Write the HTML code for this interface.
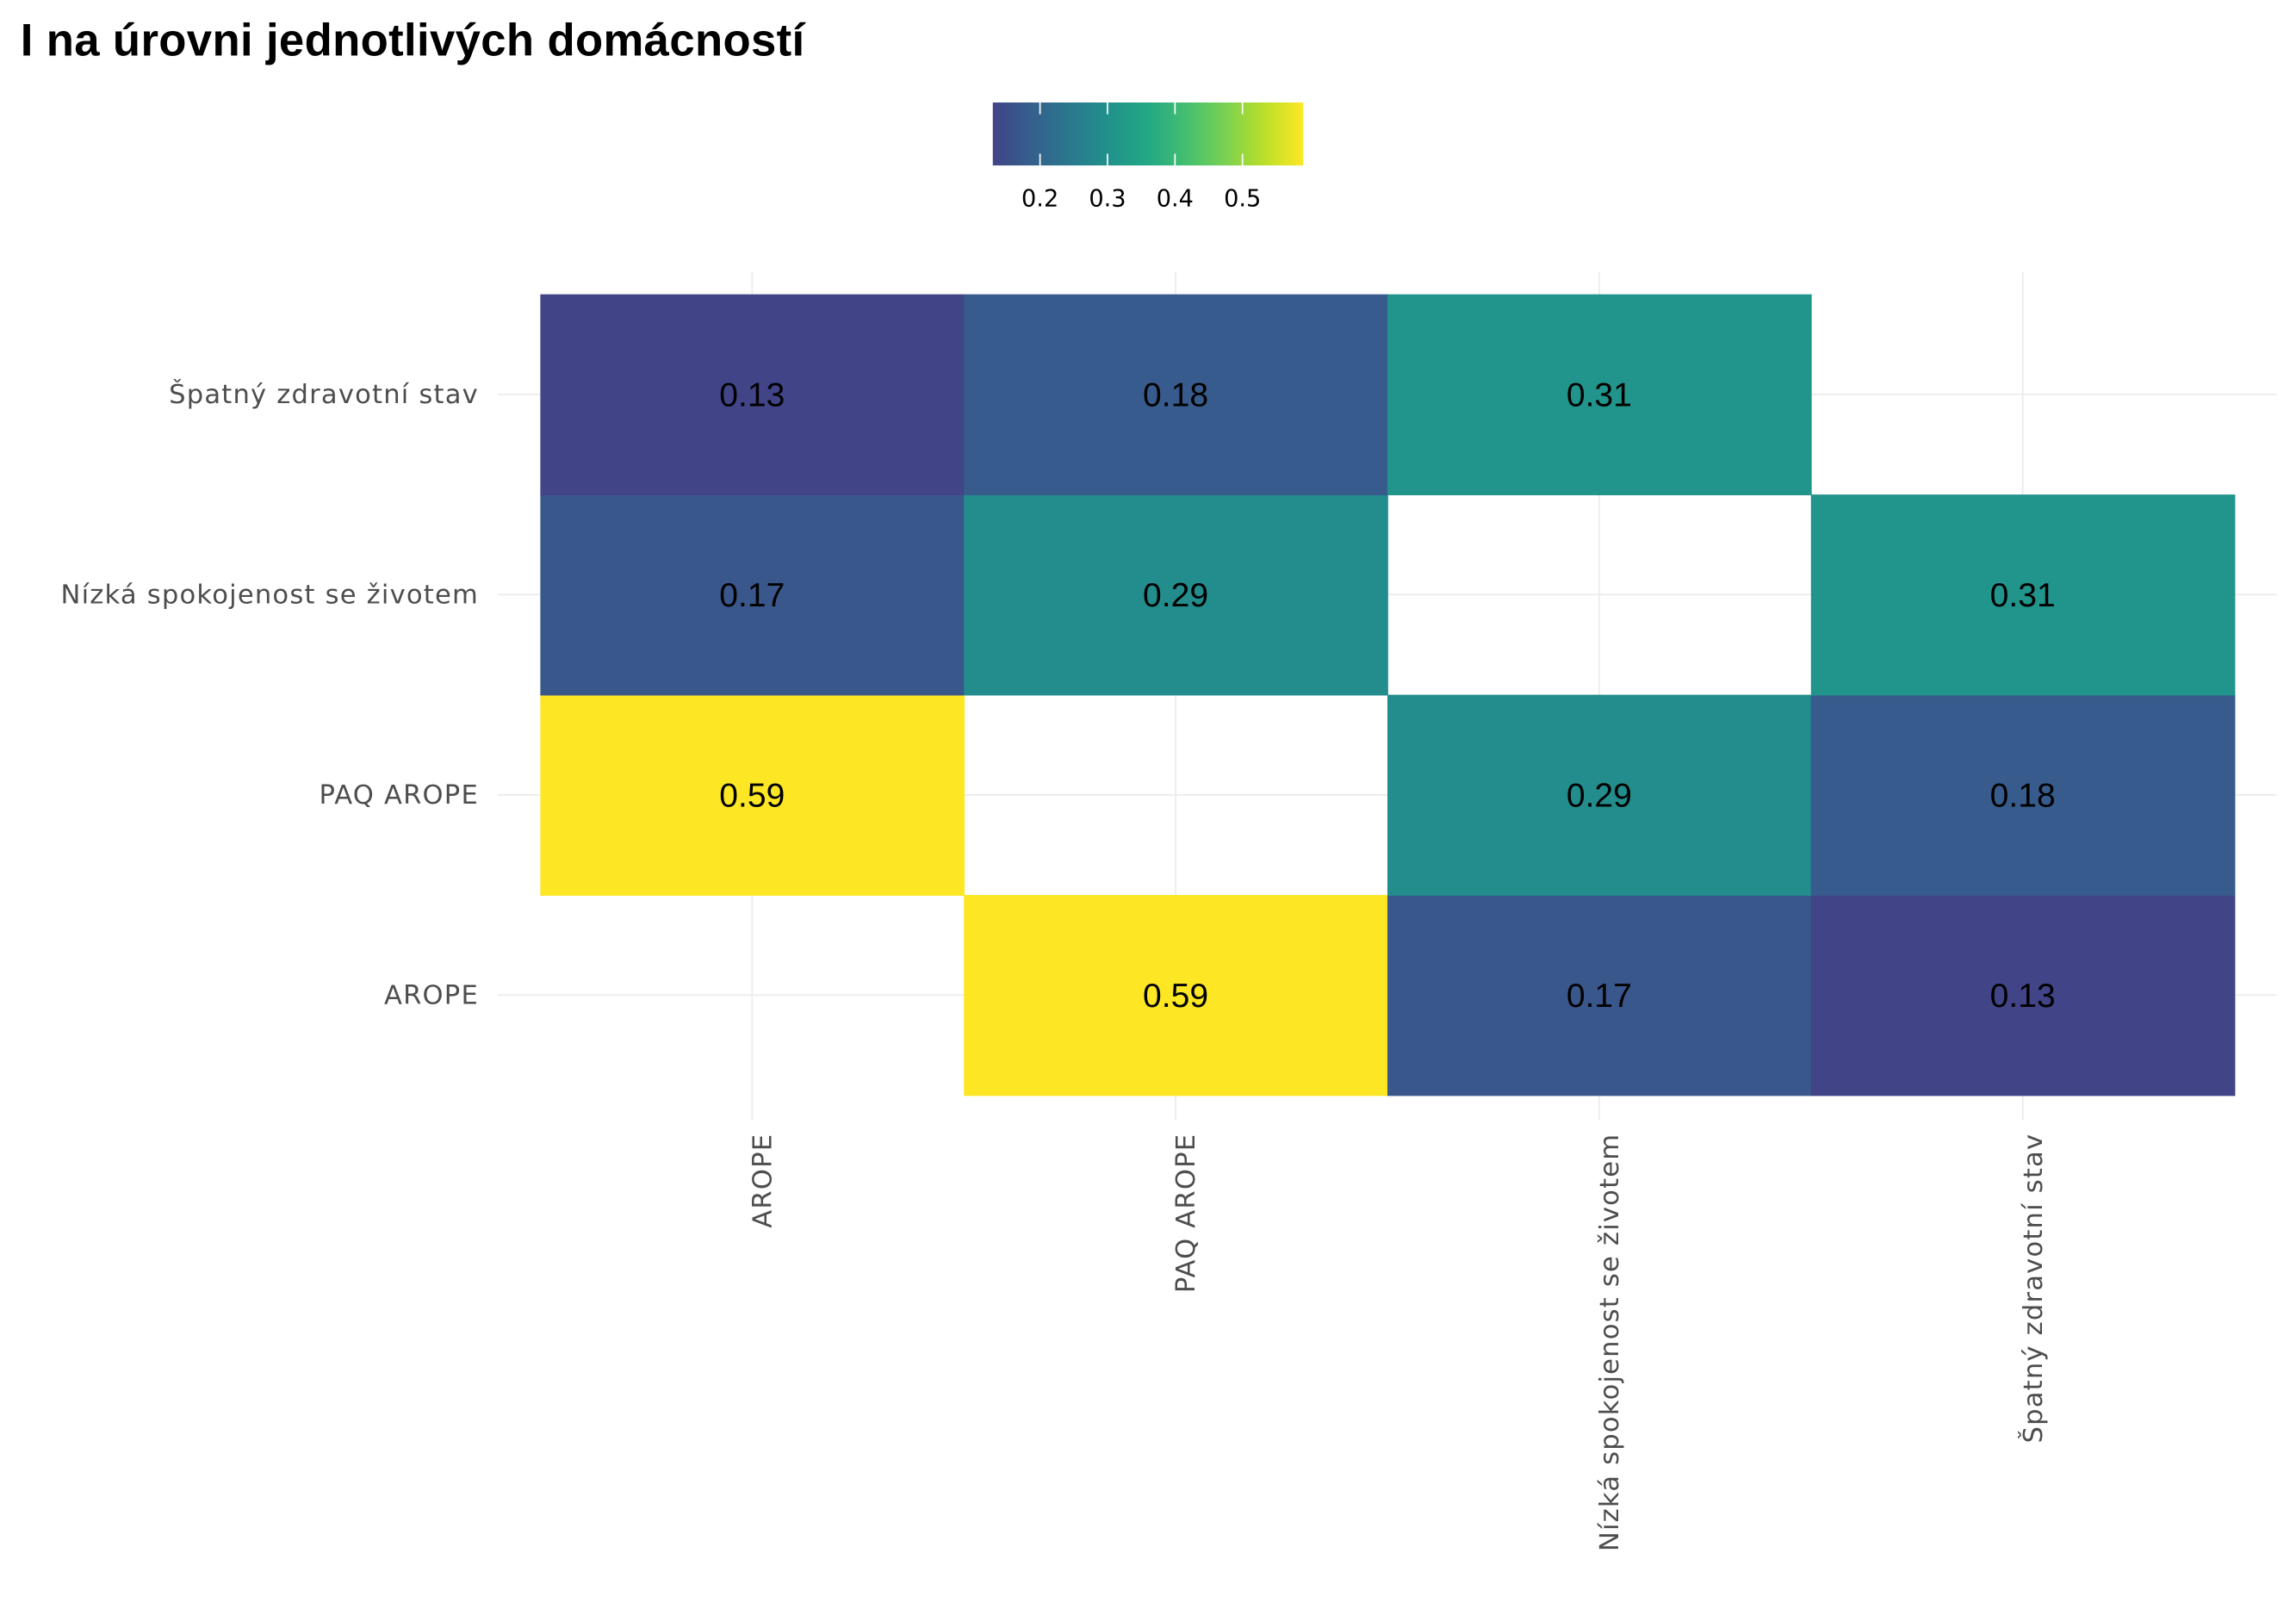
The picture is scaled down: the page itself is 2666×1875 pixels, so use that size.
<!DOCTYPE html>
<html><head><meta charset="utf-8"><style>
html,body{margin:0;padding:0;background:#fff;}
svg{display:block;}
</style></head><body>
<svg id="chart" width="2666" height="1875" viewBox="0 0 1568 1103" preserveAspectRatio="none" xmlns="http://www.w3.org/2000/svg">
<text x="14" y="38" font-family="Liberation Sans, sans-serif" font-weight="bold" font-size="31" fill="#000" letter-spacing="0.2">I na úrovni jednotlivých domácností</text>
<defs><linearGradient id="lg" x1="0" x2="1" y1="0" y2="0"></linearGradient></defs>
<g id="grid"></g><g id="tiles"></g><g id="labels"></g><g id="legend"></g>
</svg>
<script>
const categories = ["AROPE", "PAQ AROPE", "Nízká spokojenost se životem", "Špatný zdravotní stav"];
const cellCols = [0, 0, 0, 1, 1, 1, 2, 2, 2, 3, 3, 3];
const cellRows = [1, 2, 3, 0, 2, 3, 0, 1, 3, 0, 1, 2];
const cellValues = [0.59, 0.17, 0.13, 0.59, 0.29, 0.18, 0.17, 0.29, 0.31, 0.13, 0.18, 0.31];
const legendTicks = [0.2, 0.3, 0.4, 0.5];
const NS = "http://www.w3.org/2000/svg";
const vir = ["#440154","#482475","#414487","#355F8D","#2A788E","#21918C","#22A884","#44BF70","#7AD151","#BBDF27","#FDE725"];
const vmin = Math.min(...cellValues), vmax = Math.max(...cellValues);
function hex(c){return [1,3,5].map(i=>parseInt(c.substr(i,2),16));}
function viridis(t){t=Math.max(0,Math.min(1,t));const p=t*10,i=Math.min(9,Math.floor(p)),f=p-i;const a=hex(vir[i]),b=hex(vir[i+1]);return "rgb("+a.map((v,k)=>Math.round(v+(b[k]-v)*f)).join(",")+")";}
function color(v){return viridis(0.2+0.8*(v-vmin)/(vmax-vmin));}
const x0=369, tw=289.25, yTop=201, th=136.75;
function xc(i){return x0+tw*(i+0.5);}
function yc(r){return yTop+th*(categories.length-1-r+0.5);}
function mk(tag,attrs,parent){const e=document.createElementNS(NS,tag);for(const k in attrs)e.setAttribute(k,attrs[k]);parent.appendChild(e);return e;}
const grid=document.getElementById("grid"), tiles=document.getElementById("tiles"), labels=document.getElementById("labels"), legend=document.getElementById("legend");
categories.forEach((c,i)=>{
  const gv=mk("line",{x1:xc(i),x2:xc(i),y1:186,y2:765,stroke:"#ebebeb","stroke-width":1},grid);
  
  
  const gh=mk("line",{x1:340,x2:1555,y1:yc(i),y2:yc(i),stroke:"#ebebeb","stroke-width":1},grid);
  
  
  const yl=mk("text",{x:327,y:yc(i)+6,"text-anchor":"end","font-family":"DejaVu Sans, sans-serif","font-size":18,"letter-spacing":0.7,fill:"#4d4d4d"},labels);
  yl.textContent=c;
  
  
  const xl=mk("text",{x:0,y:0,"text-anchor":"end","font-family":"DejaVu Sans, sans-serif","font-size":18,"letter-spacing":0.7,fill:"#4d4d4d",transform:"translate("+(xc(i)+13)+",774) rotate(-90)"},labels);
  xl.textContent=c;
  
  
});
cellValues.forEach((v,k)=>{
  const r=mk("rect",{x:xc(cellCols[k])-tw/2,y:yc(cellRows[k])-th/2,width:tw+0.5,height:th+0.5,fill:color(v)},tiles);
  
  
  const t=mk("text",{x:xc(cellCols[k]),y:yc(cellRows[k])+8,"text-anchor":"middle","font-family":"Liberation Sans, sans-serif","font-size":23,fill:"#000"},labels);
  t.textContent=v.toFixed(2);
  
  
});
const lg=document.getElementById("lg");
for(let i=0;i<=20;i++){mk("stop",{offset:(i/20),"stop-color":viridis(0.2+0.8*i/20)},lg);}
const lx0=678,lx1=890;
function lx(v){return lx0+(v-vmin)/(vmax-vmin)*(lx1-lx0);}
const bar=mk("rect",{x:lx0,y:70,width:lx1-lx0,height:43,fill:"url(#lg)"},legend);


legendTicks.forEach(v=>{
  mk("line",{x1:lx(v),x2:lx(v),y1:70,y2:78,stroke:"#fff","stroke-width":1},legend);
  mk("line",{x1:lx(v),x2:lx(v),y1:105,y2:113,stroke:"#fff","stroke-width":1},legend);
  const t=mk("text",{x:lx(v),y:141,"text-anchor":"middle","font-family":"DejaVu Sans, sans-serif","font-size":16,fill:"#000"},legend);
  t.textContent=v.toFixed(1);
  
  
});
</script>
</body></html>
